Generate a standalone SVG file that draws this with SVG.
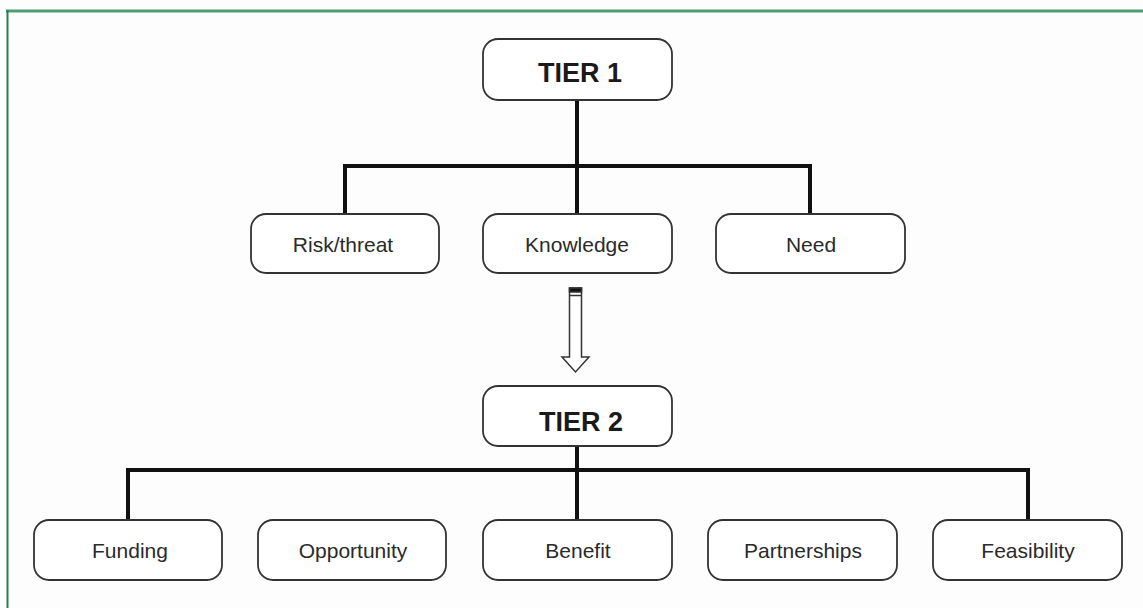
<svg xmlns="http://www.w3.org/2000/svg" width="1143" height="608" viewBox="0 0 1143 608">
  <style>
    .box { fill: #ffffff; stroke: #333333; stroke-width: 1.8; }
    .tier { font-family: "Liberation Sans", Arial, sans-serif; font-size: 27px; font-weight: bold; fill: #1a1a1a; text-anchor: middle; }
    .lbl { font-family: "Liberation Sans", Arial, sans-serif; font-size: 21px; fill: #2a2a2a; text-anchor: middle; }
    .wire { fill: none; stroke: #111111; stroke-width: 4; stroke-linejoin: miter; }
  </style>
  <rect width="1143" height="608" fill="#fdfdfd"/>
  <!-- frame rules -->
  <line x1="6" y1="11" x2="1143" y2="11" stroke="#4f9c77" stroke-width="3"/>
  <line x1="7.5" y1="10" x2="7.5" y2="608" stroke="#2a7d56" stroke-width="2"/>

  <g id="connectors">
    <path class="wire" d="M577 100 V166 M345 213 V166 H810 V213 M577 166 V213"/>
    <path class="wire" d="M577 446 V470 M128 520 V470 H1028 V520 M577 470 V520"/>
    <!-- hollow down arrow between tiers -->
    <g id="tier-arrow" stroke="#333333" stroke-width="1.5">
      <path d="M569.5 288 H581.5 V357 H589 L575.5 372 L562 357 H569.5 Z" fill="#ffffff"/>
      <rect x="569.5" y="288" width="12" height="4" fill="#111111"/>
      <line x1="569.5" y1="295.5" x2="581.5" y2="295.5"/>
    </g>
  </g>

  <g id="tier1">
    <rect class="box" x="483" y="39" width="189" height="61" rx="15"/>
    <text class="tier" x="580" y="82">TIER 1</text>
  </g>
  <g id="risk">
    <rect class="box" x="251" y="214" width="188" height="59" rx="15"/>
    <text class="lbl" x="343" y="251.5">Risk/threat</text>
  </g>
  <g id="knowledge">
    <rect class="box" x="483" y="214" width="189" height="59" rx="15"/>
    <text class="lbl" x="577" y="251.5">Knowledge</text>
  </g>
  <g id="need">
    <rect class="box" x="716" y="214" width="189" height="59" rx="15"/>
    <text class="lbl" x="811" y="251.5">Need</text>
  </g>

  <g id="tier2">
    <rect class="box" x="483" y="386" width="189" height="60" rx="15"/>
    <text class="tier" x="581" y="431">TIER 2</text>
  </g>
  <g id="funding">
    <rect class="box" x="34" y="520" width="188" height="60" rx="15"/>
    <text class="lbl" x="130" y="558">Funding</text>
  </g>
  <g id="opportunity">
    <rect class="box" x="258" y="520" width="188" height="60" rx="15"/>
    <text class="lbl" x="353" y="558">Opportunity</text>
  </g>
  <g id="benefit">
    <rect class="box" x="483" y="520" width="189" height="60" rx="15"/>
    <text class="lbl" x="578" y="558">Benefit</text>
  </g>
  <g id="partnerships">
    <rect class="box" x="708" y="520" width="189" height="60" rx="15"/>
    <text class="lbl" x="803" y="558">Partnerships</text>
  </g>
  <g id="feasibility">
    <rect class="box" x="933" y="520" width="189" height="60" rx="15"/>
    <text class="lbl" x="1028" y="558">Feasibility</text>
  </g>
</svg>
